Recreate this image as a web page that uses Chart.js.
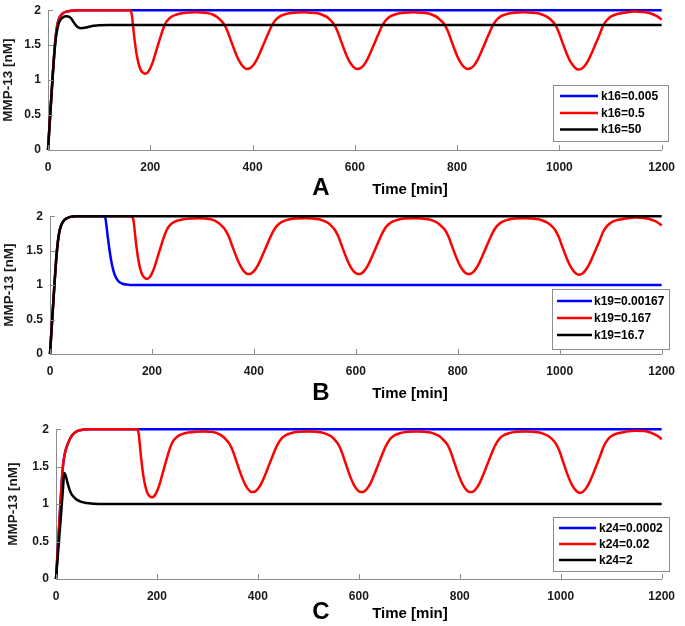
<!DOCTYPE html>
<html><head><meta charset="utf-8">
<script src="https://cdn.jsdelivr.net/npm/chart.js@4.4.1/dist/chart.umd.min.js"></script>
<style>
html,body{margin:0;padding:0;background:#fff;width:685px;height:626px;overflow:hidden;position:relative;font-family:'Liberation Sans',Arial,sans-serif;}
canvas{position:absolute;left:0;}
.lbl{position:absolute;font-weight:bold;color:#000;transform:translate(-50%,-50%);white-space:nowrap;line-height:1;}
</style></head><body>
<canvas id="cA"></canvas>
<canvas id="cB"></canvas>
<canvas id="cC"></canvas>
<div class="lbl" style="left:321px;top:187px;font-size:24px;">A</div>
<div class="lbl" style="left:410px;top:188px;font-size:15px;">Time [min]</div>
<div class="lbl" style="left:321px;top:392px;font-size:24px;">B</div>
<div class="lbl" style="left:410px;top:392px;font-size:15px;">Time [min]</div>
<div class="lbl" style="left:321px;top:611px;font-size:24px;">C</div>
<div class="lbl" style="left:410px;top:612px;font-size:15px;">Time [min]</div>
<script>
// ---------- tick labels ----------
const xTicks = [0, 200, 400, 600, 800, 1000, 1200];
const yTicks = [0, 0.5, 1, 1.5, 2];

// ---------- legend labels ----------
const labelsA = ['k16=0.005', 'k16=0.5', 'k16=50'];
const labelsB = ['k19=0.00167', 'k19=0.167', 'k19=16.7'];
const labelsC = ['k24=0.0002', 'k24=0.02', 'k24=2'];

// ---------- series values [time, MMP-13] ----------
// oscillating part of the red (reference) curve, identical in all panels
const redOsc = [
  [160,2.0],[162,1.985],[164,1.93],[166,1.80],[168,1.66],[171,1.48],[174,1.34],[177,1.24],[181,1.15],[185,1.11],
  [190,1.09],[195,1.11],[200,1.17],[205,1.26],[210,1.38],[215,1.50],[220,1.62],[226,1.75],[232,1.84],[240,1.90],
  [250,1.935],[262,1.955],[278,1.967],[292,1.97],
  [305,1.965],[315,1.955],[323,1.935],[330,1.905],[337,1.86],[344,1.80],[351,1.70],[357,1.58],[363,1.46],[369,1.35],
  [375,1.26],[381,1.195],[388,1.16],[395,1.17],[401,1.21],[408,1.29],[415,1.40],[422,1.52],[429,1.64],[437,1.77],
  [445,1.86],[454,1.915],[465,1.945],[480,1.965],[500,1.97],
  [515,1.965],[527,1.955],[536,1.935],[545,1.905],[552,1.86],[559,1.80],[566,1.70],[572,1.58],[578,1.46],[584,1.35],
  [590,1.26],[597,1.19],[604,1.16],[611,1.17],[617,1.21],[624,1.29],[631,1.40],[638,1.52],[645,1.64],[653,1.77],
  [661,1.86],[670,1.915],[681,1.945],[696,1.965],[715,1.97],
  [730,1.965],[742,1.955],[751,1.935],[760,1.905],[767,1.86],[775,1.80],[782,1.70],[788,1.58],[794,1.46],[800,1.35],
  [806,1.26],[813,1.19],[820,1.16],[827,1.17],[833,1.21],[840,1.29],[847,1.40],[854,1.52],[861,1.64],[869,1.77],
  [877,1.86],[886,1.915],[897,1.945],[912,1.965],[930,1.97],
  [946,1.965],[958,1.955],[967,1.935],[976,1.905],[984,1.86],[991,1.80],[998,1.70],[1004,1.58],[1010,1.46],[1016,1.35],
  [1022,1.26],[1029,1.19],[1037,1.15],[1044,1.165],[1050,1.21],[1057,1.29],[1064,1.40],[1071,1.52],[1078,1.64],[1085,1.77],
  [1093,1.86],[1102,1.915],[1113,1.945],[1128,1.965],[1148,1.98],[1165,1.975],[1176,1.96],[1185,1.935],[1193,1.905],[1200,1.865]
];

// Panel A
const riseA = [[0,0],[3,0.35],[6,0.70],[9,1.04],[12,1.36],[15,1.62],[18,1.78],[21,1.87],[25,1.925],[30,1.96],[36,1.98],[45,1.993],[60,2.0]];
const blueA_tail = [[1200,2.0]];
const blackA = [[0,0],[3,0.35],[6,0.70],[9,1.04],[12,1.35],[15,1.58],[18,1.72],[21,1.81],[25,1.87],[30,1.90],[35,1.912],[40,1.91],
  [45,1.885],[50,1.83],[55,1.78],[60,1.75],[65,1.742],[72,1.748],[80,1.762],[90,1.777],[100,1.786],[120,1.79],[1200,1.79]];

// Panel B
const riseB = [[0,0],[3,0.35],[6,0.70],[9,1.04],[12,1.36],[15,1.60],[18,1.76],[22,1.87],[27,1.935],[33,1.97],[40,1.99],[50,2.0]];
const blueB_drop = [[107,2.0],[109,1.96],[111,1.85],[113,1.72],[116,1.55],[119,1.40],[122,1.28],[126,1.17],[130,1.10],
  [135,1.05],[142,1.02],[150,1.008],[165,1.0],[1200,1.0]];
const blackB_tail = [[1200,2.0]];

// Panel C
const riseC = [[0,0],[4,0.45],[8,0.92],[12,1.36],[14,1.52],[16,1.62],[18,1.69],[21,1.76],[27.5,1.87],[34,1.935],[44,1.98],[54,1.995],[70,2.0]];
const blueC_tail = [[1200,2.0]];
const blackC = [[0,0],[4,0.35],[8,0.69],[12,1.04],[14,1.22],[16.3,1.415],[18,1.40],[20,1.36],[23,1.28],[27,1.19],[31,1.13],
  [36,1.09],[41,1.06],[50,1.03],[60,1.015],[75,1.005],[90,1.0],[1200,1.0]];

// ---------- helpers ----------
const FONT = "'Liberation Sans', Arial, sans-serif";
const AXIS_GRAY = '#8c8c8c';
const toXY = arr => arr.map(p => ({x: p[0], y: p[1]}));

const inwardTicks = {
  id: 'inwardTicks',
  afterDraw(chart) {
    const {ctx, chartArea} = chart;
    const xs = chart.scales.x, ys = chart.scales.y;
    ctx.save();
    ctx.strokeStyle = AXIS_GRAY;
    ctx.lineWidth = 1;
    ctx.beginPath();
    xs.ticks.forEach(t => {
      const px = Math.round(xs.getPixelForValue(t.value)) + 0.5;
      ctx.moveTo(px, chartArea.bottom);
      ctx.lineTo(px, chartArea.bottom - 5);
    });
    ys.ticks.forEach(t => {
      const py = Math.round(ys.getPixelForValue(t.value)) + 0.5;
      ctx.moveTo(chartArea.left, py);
      ctx.lineTo(chartArea.left + 5, py);
    });
    ctx.stroke();
    ctx.restore();
  }
};

const boxLegend = {
  id: 'boxLegend',
  afterDraw(chart, args, o) {
    const {ctx} = chart;
    const off = o.canvasTop;
    ctx.save();
    ctx.fillStyle = '#fff';
    ctx.fillRect(o.left, o.top - off, o.right - o.left, o.bottom - o.top);
    ctx.strokeStyle = AXIS_GRAY;
    ctx.lineWidth = 1;
    ctx.strokeRect(o.left + 0.5, o.top - off + 0.5, o.right - o.left, o.bottom - o.top);
    ctx.font = "bold 12px " + FONT;
    ctx.textBaseline = 'middle';
    ctx.textAlign = 'left';
    chart.data.datasets.forEach((ds, i) => {
      const y = o.rows[i] - off;
      ctx.strokeStyle = ds.borderColor;
      ctx.lineWidth = 2.5;
      ctx.beginPath();
      ctx.moveTo(o.lineX1, y);
      ctx.lineTo(o.lineX2, y);
      ctx.stroke();
      ctx.fillStyle = '#000';
      ctx.fillText(ds.label, o.textX, y + 0.5);
    });
    ctx.restore();
  }
};

function makeChart(id, p, datasets, legend) {
  const cv = document.getElementById(id);
  const canvasTop = p.top - 10;
  const h = p.bottom - canvasTop + 30;
  cv.width = 685; cv.height = h;
  cv.style.width = '685px'; cv.style.height = h + 'px';
  cv.style.top = canvasTop + 'px';
  legend.canvasTop = canvasTop;
  const tickFont = {family: FONT, size: 12, weight: 'bold'};
  return new Chart(cv, {
    type: 'line',
    data: {datasets},
    options: {
      responsive: false,
      animation: false,
      layout: {padding: {top: 10, right: 685 - p.right, bottom: 0, left: 0}},
      elements: {point: {radius: 0}, line: {borderWidth: 2.5, cubicInterpolationMode: 'monotone'}},
      plugins: {legend: {display: false}, tooltip: {enabled: false}, boxLegend: legend},
      scales: {
        x: {
          type: 'linear', min: 0, max: 1200,
          grid: {display: false, drawTicks: false},
          border: {display: true, color: AXIS_GRAY, width: 1},
          ticks: {font: tickFont, color: '#1a1a1a', padding: 10, maxRotation: 0, autoSkip: false,
                  callback: v => String(v)},
          afterBuildTicks: s => { s.ticks = xTicks.map(v => ({value: v})); },
          afterFit: s => { s.height = 30; }
        },
        y: {
          type: 'linear', min: 0, max: 2,
          grid: {display: false, drawTicks: false},
          border: {display: true, color: AXIS_GRAY, width: 1},
          ticks: {font: tickFont, color: '#1a1a1a', padding: 7, callback: v => String(v)},
          afterBuildTicks: s => { s.ticks = yTicks.map(v => ({value: v})); },
          afterFit: s => { s.width = p.left; },
          title: {display: true, text: 'MMP-13 [nM]', color: '#1a1a1a',
                  font: {family: FONT, size: 13.5, weight: 'bold'}, padding: {top: p.titlePad, bottom: 0}}
        }
      }
    },
    plugins: [inwardTicks, boxLegend]
  });
}

function ds(label, color, order, pts) {
  return {label, data: toXY(pts), borderColor: color, backgroundColor: color, order, fill: false, clip: false};
}

makeChart('cA', {top: 6, bottom: 150, left: 48, right: 669, titlePad: 0}, [
  ds(labelsA[0], '#0000ff', 2, riseA.concat(blueA_tail)),
  ds(labelsA[1], '#ff0000', 1, riseA.concat(redOsc)),
  ds(labelsA[2], '#000000', 0, blackA)
], {left: 553, top: 85, right: 668, bottom: 141, rows: [96, 113, 129.5], lineX1: 560, lineX2: 598, textX: 601});

makeChart('cB', {top: 212, bottom: 354, left: 50, right: 669, titlePad: 1}, [
  ds(labelsB[0], '#0000ff', 2, riseB.concat(blueB_drop)),
  ds(labelsB[1], '#ff0000', 1, riseB.concat(redOsc)),
  ds(labelsB[2], '#000000', 0, riseB.concat(blackB_tail))
], {left: 552, top: 289, right: 669, bottom: 349, rows: [301, 318, 335], lineX1: 557, lineX2: 592, textX: 594});

makeChart('cC', {top: 425, bottom: 579, left: 56, right: 669, titlePad: 5}, [
  ds(labelsC[0], '#0000ff', 2, riseC.concat(blueC_tail)),
  ds(labelsC[1], '#ff0000', 1, riseC.concat(redOsc)),
  ds(labelsC[2], '#000000', 0, blackC)
], {left: 553, top: 517, right: 669, bottom: 571, rows: [528, 544, 560], lineX1: 559, lineX2: 596, textX: 599});
</script>
</body></html>
